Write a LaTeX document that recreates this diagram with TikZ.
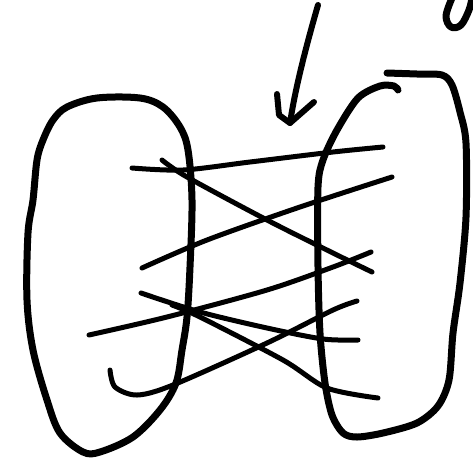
\documentclass[tikz,border=0pt]{standalone}
\usepackage{tikz}
\usetikzlibrary{arrows.meta,positioning}
\tikzset{
  outline/.style={line width=7pt, line cap=round, line join=round},
  link/.style={line width=5pt, line cap=round, line join=round},
  pointer/.style={line width=6pt, line cap=round, line join=round}
}
\begin{document}
\begin{tikzpicture}[x=1pt, y=-1pt]
\useasboundingbox (0,0) rectangle (473,467);

% --- Left set ---
\draw[outline] plot[smooth cycle, tension=0.55] coordinates {
  (67,107) (97,98) (140,98) (163,107) (180,127) (188,150) (192,200)
  (190,267) (187,317) (182,350) (176,383) (160,410) (133,437) (100,452)
  (83,452) (60,433) (47,400) (33,350) (27,300) (28,233) (33,200)
  (37,160) (43,140) (53,120)};

% --- Right set (open stroke) ---
\draw[outline] plot[smooth, tension=0.5] coordinates {
  (387,73) (417,74) (442,75) (452,85) (460,112) (466,143) (466,217)
  (460,283) (453,333) (449,380) (438,406) (417,423) (383,433) (357,437)
  (343,433) (332,415) (325,383) (320,333) (318,267) (318,187) (323,160)
  (337,130) (358,98) (380,86) (394,86) (398,90)};

% --- Arrow ---
\coordinate (arrowTail) at (318,5);
\coordinate (arrowTip) at (290,123);
\draw[pointer] (arrowTail) .. controls (305,50) and (295,90) .. (arrowTip);
\draw[pointer] (277,94) -- (279,115) -- (arrowTip) -- (314,102);

% --- Fragment at top right ---
\draw[outline] plot[smooth, tension=0.6] coordinates {
  (452,-2) (446,16) (451,27) (461,25) (469,10) (472,-2)};

% --- Links ---
\draw[link] plot[smooth] coordinates {(132,168) (183,170) (250,162) (333,152) (383,147)};
\draw[link] plot[smooth] coordinates {(162,160) (187,177) (267,220) (333,253) (372,272)};
\draw[link] plot[smooth] coordinates {(142,268) (207,240) (300,207) (392,177)};
\draw[link] plot[smooth] coordinates {(89,335) (167,317) (267,290) (333,267) (371,252)};
\draw[link] plot[smooth] coordinates {(141,293) (200,312) (267,328) (323,339) (358,340)};
\draw[link] plot[smooth] coordinates {(172,305) (200,317) (283,360) (327,388) (378,398)};
\draw[link] plot[smooth] coordinates {(110,370) (115,387) (137,395) (173,385) (267,343) (333,310) (357,301)};

\end{tikzpicture}
\end{document}
